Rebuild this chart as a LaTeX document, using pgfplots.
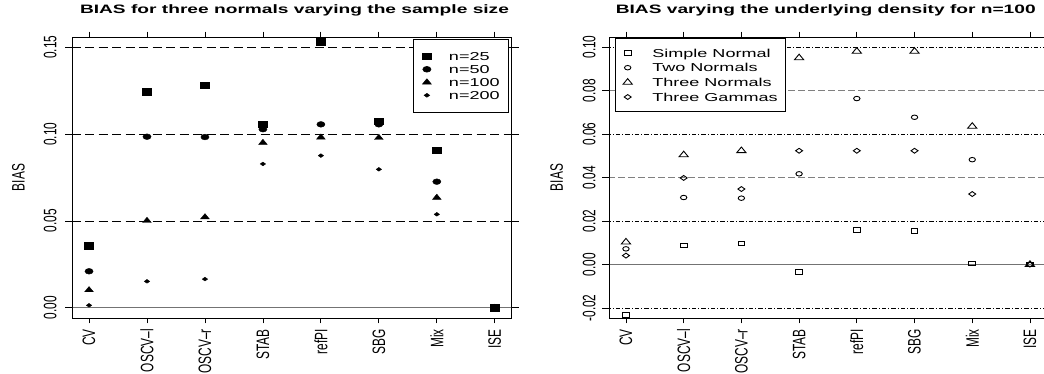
\documentclass[border=0pt]{standalone}
\usepackage{fontspec}
\setmainfont{Liberation Sans}
\newfontfamily\hfont[FakeStretch=1.57]{Liberation Sans}
\newfontfamily\vfont[FakeStretch=0.66]{Liberation Sans}
\usepackage{pgfplots}
\pgfplotsset{compat=1.18}
\newcommand\htxt{\hfont\fontsize{11.5}{13}\selectfont}
\newcommand\ttl{\hfont\bfseries\fontsize{12.2}{14}\selectfont}
\newcommand\vtxt{\vfont\fontsize{18}{20}\selectfont}
\pgfplotsset{
 common/.style={
  scale only axis,
  anchor=south west,
  height=281pt,
  xmin=0.72, xmax=8.28,
  axis line style={line width=0.8pt},
  tick align=outside,
  tick style={line width=0.8pt, black},
  xtick style={/pgfplots/major tick length=5.3pt},
  ytick style={/pgfplots/major tick length=7.7pt},
  minor tick num=0,
  xtick={1,...,8},
  xticklabels={CV,OSCV–l,OSCV–r,STAB,refPI,SBG,Mix,ISE},
  xticklabel style={rotate=90, anchor=east, inner ysep=0pt, inner xsep=6.7pt, font=\vtxt},
  ylabel={BIAS},
  ylabel style={anchor=south, inner sep=0pt, font=\vtxt},
  legend cell align=left,
  legend image code/.code={\draw[#1] plot coordinates {(0pt,0pt)};},
 },
 mk/.style={only marks, mark options={yscale=0.7}},
}
\begin{document}
\begin{tikzpicture}
\useasboundingbox (0pt,0pt) rectangle (1044pt,373pt);
% ---------------- left panel ----------------
\begin{axis}[common,
  at={(72.8pt,55pt)}, width=438.2pt,
  ymin=-0.0059, ymax=0.1559,
  ytick={0,0.05,0.1,0.15},
  yticklabels={0.00,0.05,0.10,0.15},
  yticklabel style={rotate=90, anchor=south, inner xsep=0pt, inner ysep=11.7pt, font=\vtxt},
  ylabel style={at={(axis description cs:-0.1089,0.5)}},
  title={BIAS for three normals varying the sample size},
  title style={at={(0.5,1)}, anchor=base, yshift=17.7pt, xshift=2.6pt, inner sep=0pt, font=\ttl},
  legend style={at={(1,1)}, anchor=north east, xshift=-2pt, yshift=-2.3pt, draw=black, line width=0.6pt, fill=white,
    inner xsep=9pt, inner ysep=10.2pt, row sep=0pt, column sep=0pt, font=\htxt,
    nodes={inner sep=0pt, text height=10.6pt, text depth=2.4pt, font=\htxt}},
]
\addplot[forget plot, black, line width=0.6pt, dash pattern=on 9pt off 4.5pt] coordinates {(0,0.05) (9,0.05)};
\addplot[forget plot, black, line width=0.6pt, dash pattern=on 9pt off 4.5pt] coordinates {(0,0.10) (9,0.10)};
\addplot[forget plot, black, line width=0.6pt, dash pattern=on 9pt off 4.5pt] coordinates {(0,0.15) (9,0.15)};
\addplot[forget plot, black!55, line width=0.8pt] coordinates {(0,0) (9,0)};
\addplot[mk, black, mark=square*, mark size=4.6pt] coordinates {(1,0.0357) (2,0.1244) (3,0.1283) (4,0.1058) (5,0.1532) (6,0.1074) (7,0.0908) (8,0)};
\addlegendentry{\htxt\hspace*{17.5pt}n=25}
\addplot[mk, black, mark=*, mark size=4.1pt] coordinates {(1,0.0210) (2,0.0985) (3,0.0983) (4,0.1028) (5,0.1056) (6,0.1056) (7,0.0726) (8,0)};
\addlegendentry{\htxt\hspace*{17.5pt}n=50}
\addplot[mk, black, mark=triangle*, mark size=5pt] coordinates {(1,0.0102) (2,0.0501) (3,0.0522) (4,0.0950) (5,0.0981) (6,0.0979) (7,0.0634) (8,0)};
\addlegendentry{\htxt\hspace*{17.5pt}n=100}
\addplot[only marks, black, mark=diamond*, mark size=2.7pt, mark options={xscale=1.33, yscale=0.7}] coordinates {(1,0.0014) (2,0.0152) (3,0.0165) (4,0.0828) (5,0.0876) (6,0.0797) (7,0.0538) (8,0)};
\addlegendentry{\htxt\hspace*{17.5pt}n=200}
\end{axis}
% ---------------- right panel ----------------
\begin{axis}[common,
  at={(609.8pt,55pt)}, width=436.3pt,
  ymin=-0.0246, ymax=0.1046,
  ytick={-0.02,0,0.02,0.04,0.06,0.08,0.1},
  yticklabels={-0.02,0.00,0.02,0.04,0.06,0.08,0.10},
  yticklabel style={rotate=90, anchor=south, inner xsep=0pt, inner ysep=9.9pt, font=\vtxt},
  ylabel style={at={(axis description cs:-0.1068,0.5)}},
  title={BIAS varying the underlying density for n=100},
  title style={at={(0.5,1)}, anchor=base, yshift=17.7pt, xshift=-2.2pt, inner sep=0pt, font=\ttl},
  legend style={at={(0,1)}, anchor=north west, xshift=5.2pt, yshift=-1pt, draw=black, line width=0.6pt, fill=white,
    inner xsep=7.8pt, inner ysep=7.4pt, row sep=0pt, column sep=0pt, font=\htxt,
    nodes={inner sep=0pt, text height=11.43pt, text depth=3.23pt, font=\htxt}},
]
\addplot[forget plot, black, line width=0.5pt, dash pattern=on 4.5pt off 2pt on 1pt off 2pt] coordinates {(0,0.10) (9,0.10)};
\addplot[forget plot, black, line width=0.5pt, dash pattern=on 4.5pt off 2pt on 1pt off 2pt] coordinates {(0,0.06) (9,0.06)};
\addplot[forget plot, black, line width=0.5pt, dash pattern=on 4.5pt off 2pt on 1pt off 2pt] coordinates {(0,0.02) (9,0.02)};
\addplot[forget plot, black, line width=0.5pt, dash pattern=on 4.5pt off 2pt on 1pt off 2pt] coordinates {(0,-0.02) (9,-0.02)};
\addplot[forget plot, black!50, line width=0.8pt, dash pattern=on 7pt off 3pt] coordinates {(0,0.08) (9,0.08)};
\addplot[forget plot, black!50, line width=0.8pt, dash pattern=on 7pt off 3pt] coordinates {(0,0.04) (9,0.04)};
\addplot[forget plot, black!55, line width=0.8pt] coordinates {(0,0) (9,0)};
\addplot[mk, black, mark=square, mark size=3.3pt, line width=0.9pt] coordinates {(1,-0.0233) (2,0.0087) (3,0.0097) (4,-0.0035) (5,0.0160) (6,0.0154) (7,0.0005) (8,0)};
\addlegendentry{\htxt\hspace*{20pt}Simple Normal}
\addplot[mk, black, mark=o, mark size=3.2pt, line width=0.9pt] coordinates {(1,0.0072) (2,0.0308) (3,0.0305) (4,0.0417) (5,0.0763) (6,0.0677) (7,0.0482) (8,0)};
\addlegendentry{\htxt\hspace*{20pt}Two Normals}
\addplot[mk, black, mark=triangle, mark size=5.3pt, line width=0.9pt] coordinates {(1,0.0103) (2,0.0504) (3,0.0523) (4,0.0950) (5,0.0980) (6,0.0980) (7,0.0635) (8,0)};
\addlegendentry{\htxt\hspace*{20pt}Three Normals}
\addplot[only marks, black, mark=diamond, mark size=3.5pt, line width=0.9pt, mark options={xscale=1.33, yscale=0.7}] coordinates {(1,0.0041) (2,0.0398) (3,0.0347) (4,0.0523) (5,0.0523) (6,0.0523) (7,0.0324) (8,0)};
\addlegendentry{\htxt\hspace*{20pt}Three Gammas}
\end{axis}
\end{tikzpicture}
\end{document}
